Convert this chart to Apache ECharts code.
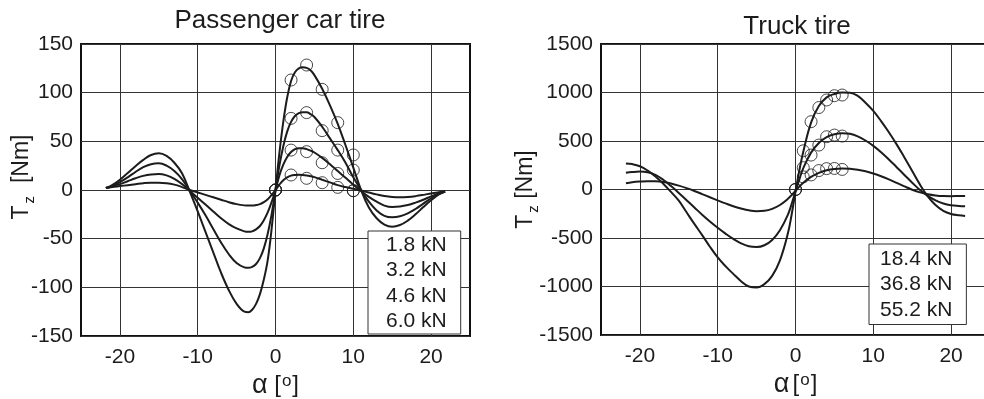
<!DOCTYPE html>
<html>
<head>
<meta charset="utf-8">
<script src="https://cdn.jsdelivr.net/npm/echarts@6/dist/echarts.min.js"></script>
<style>
  html, body { margin: 0; padding: 0; background: #fff; }
  #chart { width: 984px; height: 399px; }
</style>
</head>
<body>
<div id="chart"></div>
<script>
// slip angle samples of the fitted curves
const carAlpha = [-21.8, -21, -20, -19, -18, -17, -16, -15, -14, -13, -12, -11, -10, -9, -8, -7, -6, -5, -4, -3.5, -3, -2.5, -2, -1.5, -1, -0.5,
  0, 0.5, 1, 1.5, 2, 2.5, 3, 3.5, 4, 4.5, 5, 6, 7, 8, 9, 10, 11, 12, 13, 14, 15, 16, 17, 18, 19, 20, 21, 21.8];
const car18 = [2, 3, 4, 5, 6, 7, 7.5, 7.5, 7, 5.5, 3, 0, -2.5, -5, -7.5, -10, -12.5, -14.5, -15.8, -16, -16, -15.5, -14.5, -12.5, -9.5, -5,
  0, 5.5, 10, 13, 14.8, 15.5, 15.7, 15.5, 15, 14.2, 13.2, 10.5, 7.8, 5, 3, 1.3, -0.5, -2.5, -4.5, -6.2, -7.2, -7.5, -7.2, -6.3, -5, -3.5, -2.2, -1.5];
const car32 = [2, 3.5, 6, 9, 12, 14.5, 16, 16.5, 15, 11.5, 6, -1, -8, -15, -22, -29, -35, -39.5, -42.5, -43, -42.5, -40.5, -37, -31, -23, -12.5,
  0, 15, 26, 34, 39, 42, 43, 43, 42, 40.5, 38.5, 33, 26.5, 19.5, 12.5, 5.5, -1, -7, -12, -16, -17.5, -17, -15.5, -13, -10, -6.5, -3.5, -1.5];
const car46 = [2, 4, 8, 13, 18.5, 23.5, 26.5, 27.4, 25, 19.5, 11, -1, -13, -26, -40, -54, -66, -75, -79.5, -80, -79, -76, -70, -60, -45, -25,
  0, 25, 45, 60, 70, 76, 79, 80, 80, 78, 75, 65, 53, 41, 28, 13, 0, -12, -21, -26.5, -28, -27, -24, -19.5, -14, -8.5, -4, -1.5];
const car60 = [2, 5, 10.5, 17.5, 24.5, 31, 36, 37.7, 35, 28, 17, -2, -22, -43, -64, -85, -103, -117, -125, -125.6, -123, -117, -107, -92, -72, -40,
  0, 38, 70, 95, 112, 121, 125, 126, 125.5, 123, 118, 104, 87, 68, 46, 23, 0, -18, -29, -35.5, -37.7, -36, -31.5, -25, -17.5, -10.5, -4.5, -1.5];

// measured points (circles)
const carTestAlpha = [0, 2, 4, 6, 8, 10];
const carTest18 = [0, 15.4, 12, 7.5, 2.7, -0.7];
const carTest32 = [0, 41, 39.4, 28, 17, -0.7];
const carTest46 = [0, 73.6, 79.5, 61, 41, 20.5];
const carTest60 = [0, 113, 128.4, 103.4, 69.2, 36];

const truckAlpha = [-21.8, -21, -20, -19, -18, -17, -16, -15, -14, -13, -12, -11, -10, -9, -8, -7, -6, -5, -4, -3, -2, -1, -0.5,
  0, 0.5, 1, 2, 3, 4, 5, 6, 7, 8, 9, 10, 11, 12, 13, 14, 15, 16, 17, 18, 19, 20, 21, 21.8];
const truck184 = [65, 75, 82, 86, 85, 78, 62, 40, 14, -15, -47, -80, -112, -143, -172, -196, -215, -224, -220, -200, -160, -98, -58,
  -15, 30, 70, 130, 172, 198, 212, 217, 214, 204, 188, 165, 137, 104, 68, 32, -2, -30, -50, -62, -68, -69, -67, -66];
const truck368 = [172, 180, 185, 177, 150, 100, 35, -35, -110, -185, -260, -330, -395, -455, -510, -555, -585, -593, -575, -520, -420, -265, -150,
  -20, 105, 220, 380, 480, 540, 570, 580, 574, 548, 505, 450, 385, 310, 230, 150, 70, -5, -65, -112, -145, -163, -170, -173];
const truck552 = [268, 262, 240, 195, 135, 60, -25, -115, -235, -355, -470, -590, -700, -790, -870, -945, -1000, -1010, -975, -890, -730, -460, -260,
  -20, 200, 390, 690, 860, 950, 985, 1000, 998, 965, 895, 810, 705, 590, 465, 330, 190, 50, -70, -160, -220, -252, -266, -272];

const truckTestAlpha = [0, 1, 2, 3, 4, 5, 6];
const truckTest184 = [0, 130, 150, 195, 215, 217, 207];
const truckTest368 = [0, 225, 355, 458, 544, 561, 551];
const truckTest552 = [0, 399, 699, 845, 923, 967, 974];

const carLoads = ['1.8 kN', '3.2 kN', '4.6 kN', '6.0 kN'];
const truckLoads = ['18.4 kN', '36.8 kN', '55.2 kN'];
const alphaTicks = [-20, -10, 0, 10, 20];

const FONT = '"Liberation Sans", Arial, Helvetica, sans-serif';
const INK = '#1c1c1c';

function pairs(xs, ys) {
  return xs.map((x, i) => [x, ys[i]]);
}

function fitLine(name, idx, xs, ys) {
  return {
    name: name, type: 'line', xAxisIndex: idx, yAxisIndex: idx,
    data: pairs(xs, ys), smooth: 0.4, showSymbol: false, silent: true,
    lineStyle: { color: INK, width: 2 }, itemStyle: { color: INK }, z: 3
  };
}

function testPoints(idx, xs, ys) {
  return {
    type: 'scatter', xAxisIndex: idx, yAxisIndex: idx,
    data: pairs(xs, ys), symbol: 'circle', symbolSize: 12, silent: true,
    itemStyle: { color: 'rgba(0,0,0,0)', borderColor: INK, borderWidth: 1 }, z: 4
  };
}

function xAxisOf(idx, nameGap) {
  return {
    gridIndex: idx, type: 'value', min: -25, max: 25,
    name: idx === 0 ? '{a|α}  {b|[}{c|o}{b|]}' : '{a|α} {b|[}{c|o}{b|]}',
    nameLocation: 'middle', nameGap: nameGap, nameMoveOverlap: false,
    nameTextStyle: {
      rich: {
        a: { fontFamily: FONT, fontSize: 27, color: INK, verticalAlign: 'top', lineHeight: 26 },
        b: { fontFamily: FONT, fontSize: 24, color: INK, verticalAlign: 'top', lineHeight: 26, padding: [1, 0, 0, 0] },
        c: { fontFamily: FONT, fontSize: 17, color: INK, verticalAlign: 'top', lineHeight: 17, padding: [1, 1, 0, 1] }
      }
    },
    axisLine: { show: false }, axisTick: { show: false, customValues: alphaTicks },
    axisLabel: { customValues: alphaTicks, fontFamily: FONT, fontSize: 21, color: INK, margin: 11 },
    splitLine: { show: true, lineStyle: { color: '#333', width: 1 } }
  };
}

function yAxisOf(idx, lim, step, nameGap, shift) {
  return {
    gridIndex: idx, type: 'value', min: -lim, max: lim, interval: step,
    name: idx === 0 ? '{t|T}{z|z}{n|  [Nm]}' : '{t|T}{z|z}{n| [Nm]}',
    nameLocation: 'middle', nameRotate: 90, nameGap: nameGap, nameMoveOverlap: false,
    nameTextStyle: {
      padding: [0, 0, 0, shift],
      rich: {
        t: { fontFamily: FONT, fontSize: 23, color: INK, verticalAlign: 'top', lineHeight: 24 },
        z: { fontFamily: FONT, fontSize: 15, color: INK, verticalAlign: 'top', lineHeight: 15, padding: [12, 0, 0, 2] },
        n: { fontFamily: FONT, fontSize: 23, color: INK, verticalAlign: 'top', lineHeight: 24 }
      }
    },
    axisLine: { show: false }, axisTick: { show: false },
    axisLabel: { fontFamily: FONT, fontSize: 21, color: INK, margin: 8, formatter: (v) => String(v) },
    splitLine: { show: true, lineStyle: { color: '#333', width: 1 } }
  };
}

function loadBox(names, left, top, pad) {
  return {
    data: names, orient: 'vertical', left: left, top: top,
    itemWidth: 0, itemHeight: 0, itemGap: 0, selectedMode: false,
    padding: pad, backgroundColor: '#fff', borderColor: '#333', borderWidth: 1, borderRadius: 0,
    textStyle: { fontFamily: FONT, fontSize: 21, color: INK, lineHeight: 25.5 },
    z: 10
  };
}

const chart = echarts.init(document.getElementById('chart'), null, { renderer: 'canvas' });

chart.setOption({
  animation: false,
  backgroundColor: '#fff',
  title: [
    { text: 'Passenger car tire', left: 275, top: 3, textAlign: 'center',
      textStyle: { fontFamily: FONT, fontSize: 26, fontWeight: 'normal', color: INK } },
    { text: 'Truck tire', left: 792, top: 9, textAlign: 'center',
      textStyle: { fontFamily: FONT, fontSize: 26, fontWeight: 'normal', color: INK } }
  ],
  grid: [
    { left: 81, right: 514, top: 44, bottom: 63, outerBoundsMode: 'none', show: true,
      borderColor: '#111', borderWidth: 2, backgroundColor: 'rgba(0,0,0,0)' },
    { left: 601, right: -6, top: 44, bottom: 64, outerBoundsMode: 'none', show: true,
      borderColor: '#111', borderWidth: 2, backgroundColor: 'rgba(0,0,0,0)' }
  ],
  xAxis: [xAxisOf(0, 36), xAxisOf(1, 36)],
  yAxis: [yAxisOf(0, 150, 50, 47, 26), yAxisOf(1, 1500, 500, 63, 0)],
  legend: [
    loadBox(carLoads, 368, 231, [1, 14, 0, 12]),
    loadBox(truckLoads, 869, 244, [2, 14, 2, 5])
  ],
  series: [
    fitLine(carLoads[0], 0, carAlpha, car18),
    fitLine(carLoads[1], 0, carAlpha, car32),
    fitLine(carLoads[2], 0, carAlpha, car46),
    fitLine(carLoads[3], 0, carAlpha, car60),
    testPoints(0, carTestAlpha, carTest18),
    testPoints(0, carTestAlpha, carTest32),
    testPoints(0, carTestAlpha, carTest46),
    testPoints(0, carTestAlpha, carTest60),
    fitLine(truckLoads[0], 1, truckAlpha, truck184),
    fitLine(truckLoads[1], 1, truckAlpha, truck368),
    fitLine(truckLoads[2], 1, truckAlpha, truck552),
    testPoints(1, truckTestAlpha, truckTest184),
    testPoints(1, truckTestAlpha, truckTest368),
    testPoints(1, truckTestAlpha, truckTest552)
  ]
});
</script>
</body>
</html>
